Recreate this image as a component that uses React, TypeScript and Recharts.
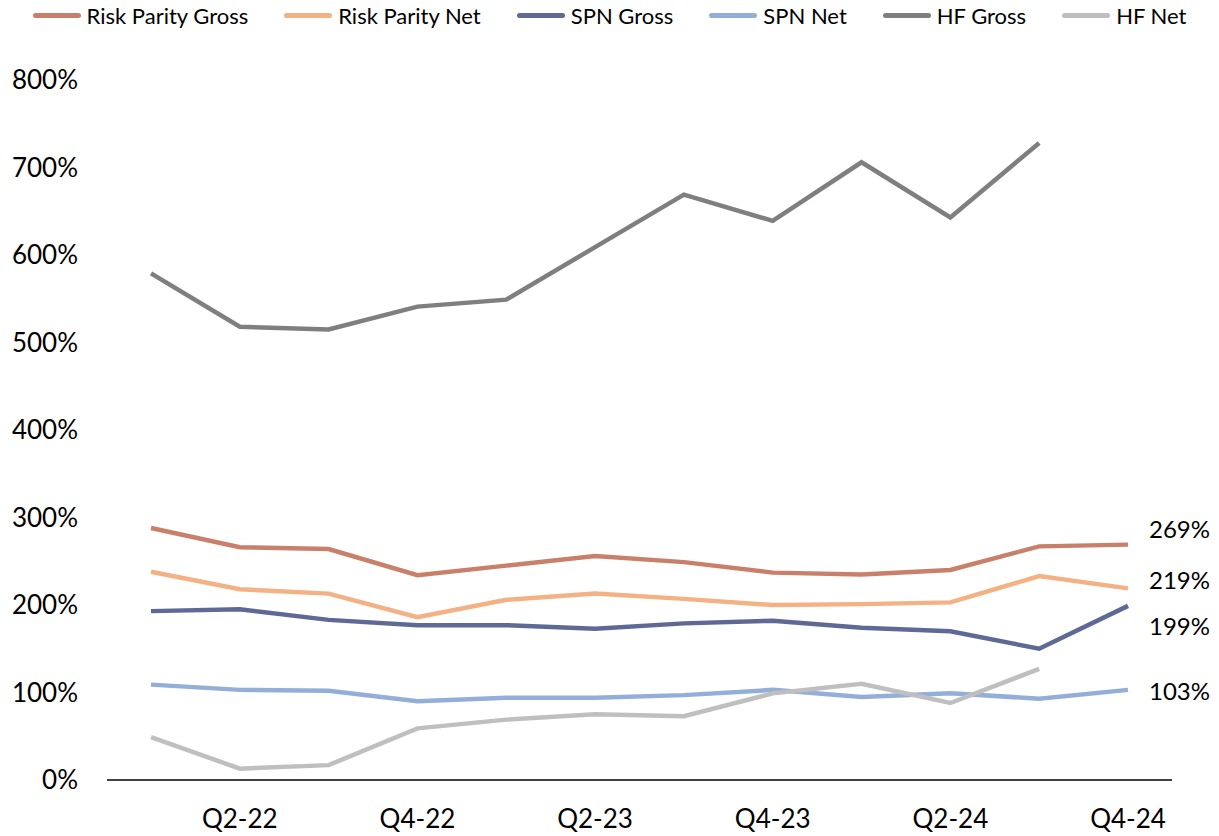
import React from 'react';
import { LineChart, Line, XAxis, YAxis } from 'recharts';

const quarters = [
  'Q1-22', 'Q2-22', 'Q3-22', 'Q4-22',
  'Q1-23', 'Q2-23', 'Q3-23', 'Q4-23',
  'Q1-24', 'Q2-24', 'Q3-24', 'Q4-24',
];

const riskParityGross = [288, 266, 264, 234, 245, 256, 249, 237, 235, 240, 267, 269];
const riskParityNet = [238, 218, 213, 186, 206, 213, 207, 200, 201, 203, 233, 219];
const spnGross = [193, 195, 183, 177, 177, 173, 179, 182, 174, 170, 150, 199];
const spnNet = [109, 103, 102, 90, 94, 94, 97, 103, 95, 99, 93, 103];
const hfGross = [579, 518, 515, 541, 549, 609, 669, 639, 706, 643, 728, null];
const hfNet = [49, 13, 17, 59, 69, 75, 73, 99, 110, 88, 127, null];

const yTicks = [0, 100, 200, 300, 400, 500, 600, 700, 800];

const series = [
  { key: 'rpGross', name: 'Risk Parity Gross', color: '#C9806A', values: riskParityGross, labelDy: -16 },
  { key: 'rpNet', name: 'Risk Parity Net', color: '#F4B183', values: riskParityNet, labelDy: -9 },
  { key: 'spnGross', name: 'SPN Gross', color: '#5F6996', values: spnGross, labelDy: 20 },
  { key: 'spnNet', name: 'SPN Net', color: '#94AEDA', values: spnNet, labelDy: 1 },
  { key: 'hfGross', name: 'HF Gross', color: '#7F7F7F', values: hfGross, labelDy: null },
  { key: 'hfNet', name: 'HF Net', color: '#BFBFBF', values: hfNet, labelDy: null },
];

const data = quarters.map((q, i) => {
  const row: any = { quarter: q };
  series.forEach((s) => {
    row[s.key] = s.values[i];
  });
  return row;
});

const FONT = 'Lato, "Open Sans", sans-serif';

function endLabel(dy: number) {
  return (props: any) => {
    const { x, y, index, value } = props;
    if (index !== quarters.length - 1 || value == null) return null;
    return (
      <text
        key={`lbl-${index}`}
        x={x + 21}
        y={y + dy}
        dominantBaseline="central"
        fontSize={24}
        fontFamily={FONT}
        fill="#000"
      >
        {`${value}%`}
      </text>
    );
  };
}

export default function App() {
  return (
    <div style={{ position: 'relative', width: 1219, height: 836, background: '#fff', fontFamily: FONT }}>
      <style>{'body{margin:0}'}</style>
      <div
        style={{
          position: 'absolute',
          top: 2,
          left: 0,
          width: 1219,
          display: 'flex',
          justifyContent: 'center',
          gap: 36,
          fontSize: 22,
          color: '#000',
        }}
      >
        {series.map((s) => (
          <div key={s.key} style={{ display: 'flex', alignItems: 'center', gap: 6 }}>
            <span style={{ width: 48, height: 5, borderRadius: 3, background: s.color, display: 'inline-block' }} />
            <span>{s.name}</span>
          </div>
        ))}
      </div>
      <LineChart width={1219} height={836} data={data} margin={{ top: 80, right: 47, left: 0, bottom: 0 }}>
        <XAxis
          dataKey="quarter"
          interval={0}
          padding={{ left: 44, right: 44 }}
          tickLine={false}
          axisLine={{ stroke: '#000', strokeWidth: 1.5 }}
          tick={{ fontSize: 26, fill: '#000', fontFamily: FONT }}
          tickMargin={24}
          height={56}
          tickFormatter={(v: string, i: number) => (i % 2 === 1 ? v : '')}
        />
        <YAxis
          domain={[0, 800]}
          ticks={yTicks}
          width={107}
          axisLine={false}
          tickLine={false}
          tickMargin={23}
          tick={{ fontSize: 26, fill: '#000', fontFamily: FONT }}
          tickFormatter={(v: number) => `${v}%`}
        />
        {series.map((s) => (
          <Line
            key={s.key}
            type="linear"
            dataKey={s.key}
            name={s.name}
            stroke={s.color}
            strokeWidth={4.5}
            dot={false}
            activeDot={false}
            isAnimationActive={false}
            label={s.labelDy != null ? endLabel(s.labelDy) : false}
          />
        ))}
      </LineChart>
    </div>
  );
}
